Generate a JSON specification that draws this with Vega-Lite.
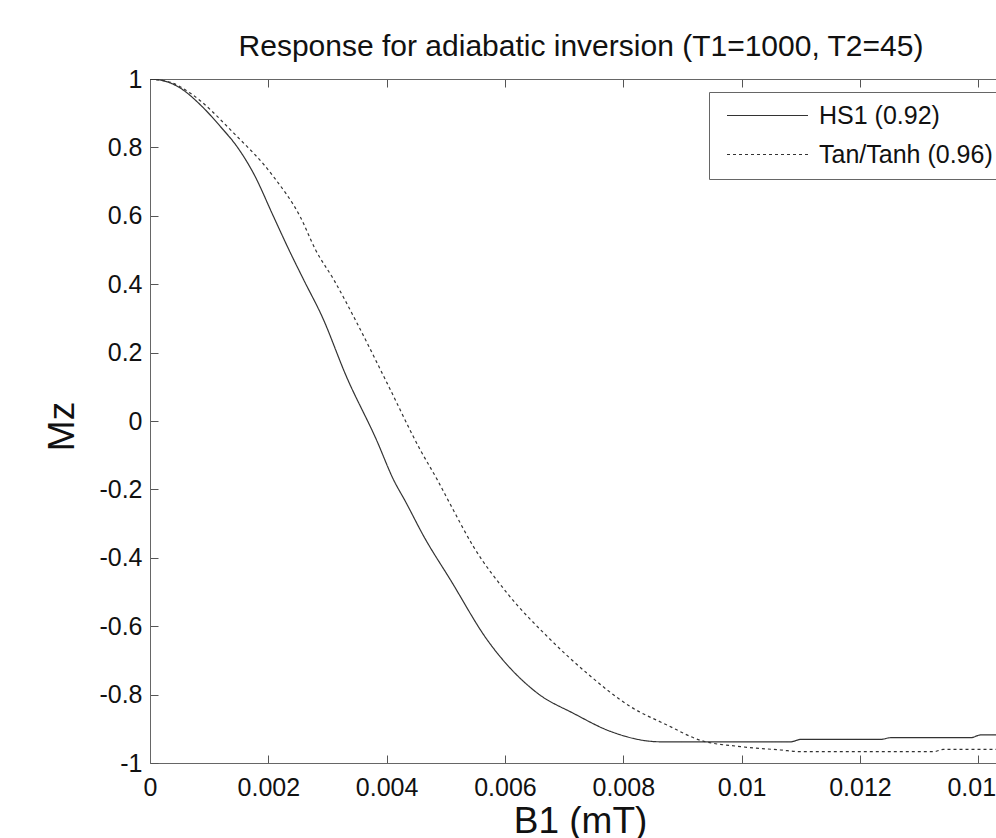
{
  "$schema": "https://vega.github.io/schema/vega-lite/v6.json",
  "width": 846,
  "height": 684,
  "autosize": "none",
  "padding": {"left": 150, "top": 79, "right": 0, "bottom": 75},
  "background": "white",
  "title": {
    "text": "Response for adiabatic inversion (T1=1000, T2=45)",
    "font": "Liberation Sans",
    "fontSize": 30,
    "fontWeight": "normal",
    "color": "#111",
    "anchor": "middle",
    "frame": "group",
    "dx": 8,
    "baseline": "alphabetic",
    "offset": -19
  },
  "config": {
    "view": {"stroke": null},
    "font": "Liberation Sans"
  },
  "data": {
    "values": [
      {"series": "HS1 (0.92)", "b1": 0, "mz": 1},
      {"series": "HS1 (0.92)", "b1": 0.00025, "mz": 0.994},
      {"series": "HS1 (0.92)", "b1": 0.000516, "mz": 0.973},
      {"series": "HS1 (0.92)", "b1": 0.000854, "mz": 0.924},
      {"series": "HS1 (0.92)", "b1": 0.00119, "mz": 0.861},
      {"series": "HS1 (0.92)", "b1": 0.00148, "mz": 0.8},
      {"series": "HS1 (0.92)", "b1": 0.00175, "mz": 0.724},
      {"series": "HS1 (0.92)", "b1": 0.00209, "mz": 0.597},
      {"series": "HS1 (0.92)", "b1": 0.00235, "mz": 0.5},
      {"series": "HS1 (0.92)", "b1": 0.0026, "mz": 0.412},
      {"series": "HS1 (0.92)", "b1": 0.00291, "mz": 0.305},
      {"series": "HS1 (0.92)", "b1": 0.00332, "mz": 0.13},
      {"series": "HS1 (0.92)", "b1": 0.00383, "mz": -0.056},
      {"series": "HS1 (0.92)", "b1": 0.00412, "mz": -0.173},
      {"series": "HS1 (0.92)", "b1": 0.00432, "mz": -0.236},
      {"series": "HS1 (0.92)", "b1": 0.00463, "mz": -0.338},
      {"series": "HS1 (0.92)", "b1": 0.00508, "mz": -0.465},
      {"series": "HS1 (0.92)", "b1": 0.0057, "mz": -0.64},
      {"series": "HS1 (0.92)", "b1": 0.00655, "mz": -0.796},
      {"series": "HS1 (0.92)", "b1": 0.00716, "mz": -0.855},
      {"series": "HS1 (0.92)", "b1": 0.00779, "mz": -0.908},
      {"series": "HS1 (0.92)", "b1": 0.00863, "mz": -0.938},
      {"series": "HS1 (0.92)", "b1": 0.01083, "mz": -0.938},
      {"series": "HS1 (0.92)", "b1": 0.011, "mz": -0.931},
      {"series": "HS1 (0.92)", "b1": 0.01235, "mz": -0.931},
      {"series": "HS1 (0.92)", "b1": 0.01252, "mz": -0.926},
      {"series": "HS1 (0.92)", "b1": 0.01387, "mz": -0.926},
      {"series": "HS1 (0.92)", "b1": 0.01404, "mz": -0.918},
      {"series": "HS1 (0.92)", "b1": 0.0145, "mz": -0.918},
      {"series": "Tan/Tanh (0.96)", "b1": 0, "mz": 1},
      {"series": "Tan/Tanh (0.96)", "b1": 0.00035, "mz": 0.99},
      {"series": "Tan/Tanh (0.96)", "b1": 0.000685, "mz": 0.958},
      {"series": "Tan/Tanh (0.96)", "b1": 0.00142, "mz": 0.841},
      {"series": "Tan/Tanh (0.96)", "b1": 0.00209, "mz": 0.714},
      {"series": "Tan/Tanh (0.96)", "b1": 0.00254, "mz": 0.597},
      {"series": "Tan/Tanh (0.96)", "b1": 0.0028, "mz": 0.5},
      {"series": "Tan/Tanh (0.96)", "b1": 0.00311, "mz": 0.412},
      {"series": "Tan/Tanh (0.96)", "b1": 0.0035, "mz": 0.286},
      {"series": "Tan/Tanh (0.96)", "b1": 0.00401, "mz": 0.11},
      {"series": "Tan/Tanh (0.96)", "b1": 0.00457, "mz": -0.085},
      {"series": "Tan/Tanh (0.96)", "b1": 0.00486, "mz": -0.173},
      {"series": "Tan/Tanh (0.96)", "b1": 0.00508, "mz": -0.245},
      {"series": "Tan/Tanh (0.96)", "b1": 0.00547, "mz": -0.368},
      {"series": "Tan/Tanh (0.96)", "b1": 0.00604, "mz": -0.504},
      {"series": "Tan/Tanh (0.96)", "b1": 0.00672, "mz": -0.631},
      {"series": "Tan/Tanh (0.96)", "b1": 0.00739, "mz": -0.738},
      {"series": "Tan/Tanh (0.96)", "b1": 0.00812, "mz": -0.835},
      {"series": "Tan/Tanh (0.96)", "b1": 0.00874, "mz": -0.889},
      {"series": "Tan/Tanh (0.96)", "b1": 0.00931, "mz": -0.934},
      {"series": "Tan/Tanh (0.96)", "b1": 0.00998, "mz": -0.952},
      {"series": "Tan/Tanh (0.96)", "b1": 0.01066, "mz": -0.962},
      {"series": "Tan/Tanh (0.96)", "b1": 0.011, "mz": -0.967},
      {"series": "Tan/Tanh (0.96)", "b1": 0.01325, "mz": -0.967},
      {"series": "Tan/Tanh (0.96)", "b1": 0.01341, "mz": -0.96},
      {"series": "Tan/Tanh (0.96)", "b1": 0.0145, "mz": -0.96}
    ]
  },
  "layer": [
    {
      "mark": {"type": "line", "clip": true, "color": "#333", "strokeWidth": 1.2, "interpolate": "monotone"},
      "encoding": {
        "x": {
          "field": "b1",
          "type": "quantitative",
          "scale": {"domain": [0, 0.0143], "nice": false, "zero": false},
          "axis": {
            "orient": "bottom",
            "values": [0, 0.002, 0.004, 0.006, 0.008, 0.01, 0.012, 0.014],
            "format": "~g",
            "grid": false,
            "tickSize": -8,
            "tickColor": "#555",
            "domainColor": "#666",
            "labelPadding": 20,
            "labelFontSize": 25,
            "labelColor": "#111",
            "labelFlush": false,
            "labelOverlap": false,
            "title": "B1 (mT)",
            "titleFontSize": 37,
            "titleFontWeight": "normal",
            "titleColor": "#111",
            "titleX": 430,
            "titleY": 69,
            "titleBaseline": "alphabetic"
          }
        },
        "y": {
          "field": "mz",
          "type": "quantitative",
          "scale": {"domain": [-1, 1], "nice": false, "zero": false},
          "axis": {
            "values": [-1, -0.8, -0.6, -0.4, -0.2, 0, 0.2, 0.4, 0.6, 0.8, 1],
            "labelExpr": "replace(format(datum.value, '~g'), '\u2212', '-')",
            "grid": false,
            "tickSize": -8,
            "tickColor": "#555",
            "domainColor": "#666",
            "labelPadding": 16,
            "labelFontSize": 25,
            "labelColor": "#111",
            "labelFlush": false,
            "labelOverlap": false,
            "title": "Mz",
            "titleFontSize": 37,
            "titleFontWeight": "normal",
            "titleColor": "#111",
            "titleAngle": -90,
            "titleX": -77,
            "titleY": 347,
            "titleBaseline": "alphabetic",
            "titleAlign": "center"
          }
        },
        "strokeDash": {
          "field": "series",
          "type": "nominal",
          "scale": {"domain": ["HS1 (0.92)", "Tan/Tanh (0.96)"], "range": [[1, 0], [3, 3]]},
          "legend": {
            "title": null,
            "orient": "none",
            "legendX": 559,
            "legendY": 13,
            "strokeColor": "#666",
            "fillColor": "white",
            "padding": 11,
            "symbolOffset": 35,
            "symbolType": "M-4,0H4",
            "symbolSize": 410,
            "symbolStrokeColor": "#333",
            "symbolStrokeWidth": 1.2,
            "labelFontSize": 25,
            "labelColor": "#111",
            "labelOffset": 39,
            "rowPadding": 13,
            "labelLimit": 400
          }
        }
      }
    },
    {
      "mark": {"type": "rule", "opacity": 0},
      "encoding": {
        "x": {
          "field": "b1",
          "type": "quantitative",
          "axis": {
            "orient": "top",
            "values": [0, 0.002, 0.004, 0.006, 0.008, 0.01, 0.012, 0.014],
            "labels": false,
            "title": null,
            "grid": false,
            "tickSize": -8,
            "tickColor": "#555",
            "domainColor": "#666"
          }
        }
      }
    }
  ],
  "resolve": {"axis": {"x": "independent"}}
}
